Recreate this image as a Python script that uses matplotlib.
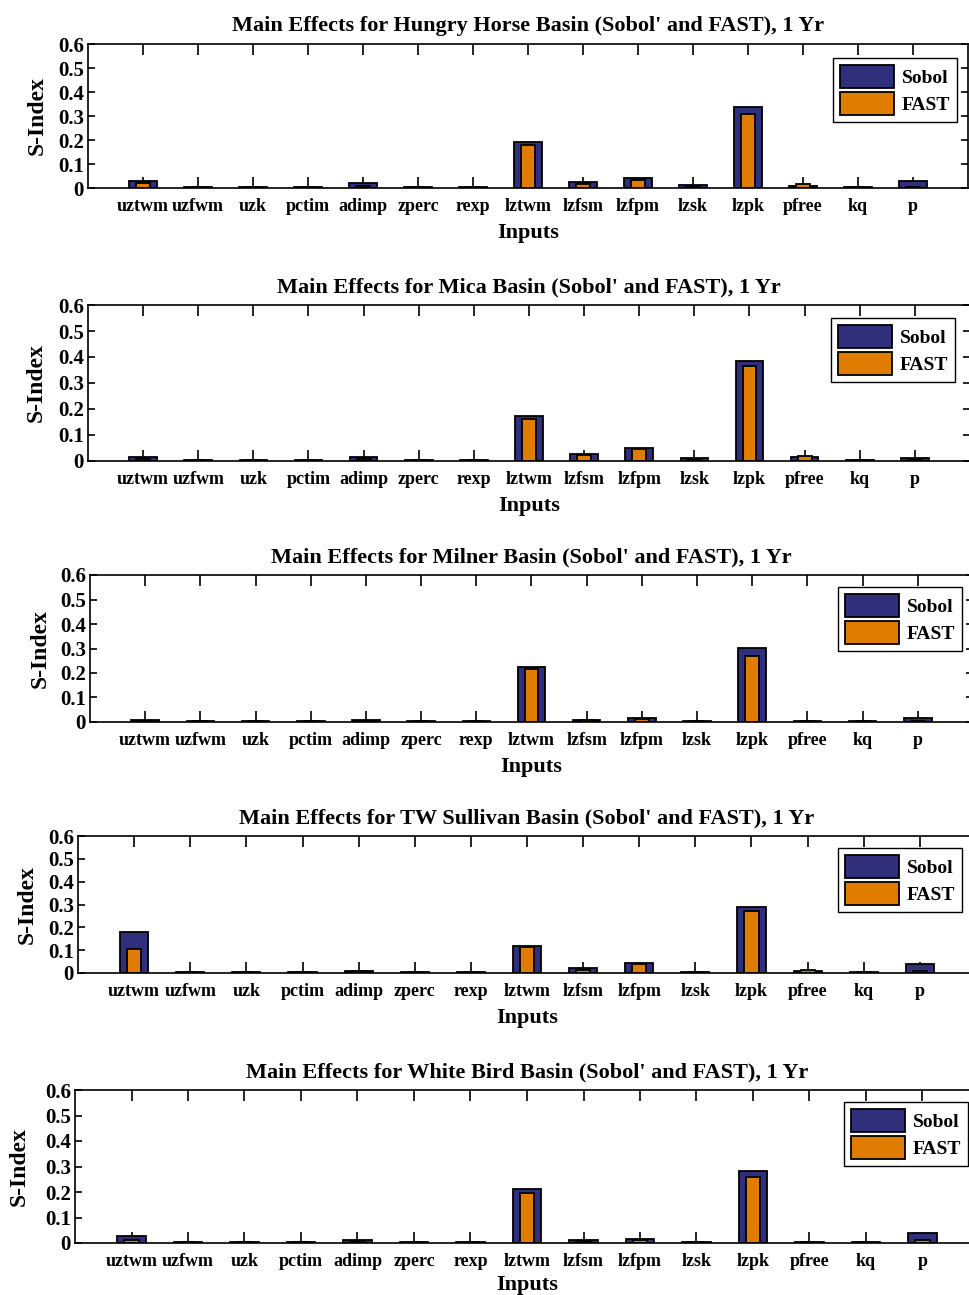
import matplotlib
matplotlib.use('Agg')
import matplotlib.pyplot as plt
import numpy as np

plt.rcParams['font.family'] = ['Liberation Serif', 'DejaVu Serif']
plt.rcParams['font.weight'] = 'bold'

inputs = ['uztwm', 'uzfwm', 'uzk', 'pctim', 'adimp', 'zperc', 'rexp', 'lztwm',
          'lzfsm', 'lzfpm', 'lzsk', 'lzpk', 'pfree', 'kq', 'p']

basins = ['Hungry Horse', 'Mica', 'Milner', 'TW Sullivan', 'White Bird']

sobol_hungry = [0.030, 0.003, 0.003, 0.003, 0.020, 0.003, 0.003, 0.193,
                0.026, 0.043, 0.014, 0.338, 0.010, 0.003, 0.028]
fast_hungry = [0.022, 0.003, 0.003, 0.003, 0.010, 0.003, 0.003, 0.180,
               0.017, 0.033, 0.005, 0.310, 0.017, 0.003, 0.005]

sobol_mica = [0.016, 0.003, 0.003, 0.003, 0.016, 0.003, 0.003, 0.172,
              0.027, 0.051, 0.010, 0.385, 0.014, 0.003, 0.010]
fast_mica = [0.009, 0.003, 0.003, 0.003, 0.009, 0.003, 0.003, 0.163,
             0.023, 0.047, 0.004, 0.365, 0.018, 0.003, 0.004]

sobol_milner = [0.009, 0.003, 0.003, 0.003, 0.009, 0.003, 0.003, 0.224,
                0.009, 0.015, 0.003, 0.302, 0.003, 0.003, 0.016]
fast_milner = [0.004, 0.003, 0.003, 0.003, 0.004, 0.003, 0.003, 0.216,
               0.007, 0.011, 0.003, 0.270, 0.003, 0.003, 0.004]

sobol_sullivan = [0.180, 0.003, 0.003, 0.003, 0.010, 0.003, 0.003, 0.117,
                  0.022, 0.045, 0.003, 0.290, 0.010, 0.003, 0.040]
fast_sullivan = [0.107, 0.003, 0.003, 0.003, 0.007, 0.003, 0.003, 0.112,
                 0.015, 0.041, 0.003, 0.270, 0.015, 0.003, 0.007]

sobol_whitebird = [0.026, 0.003, 0.003, 0.003, 0.011, 0.003, 0.003, 0.210,
                   0.011, 0.017, 0.003, 0.282, 0.003, 0.003, 0.038]
fast_whitebird = [0.013, 0.003, 0.003, 0.003, 0.004, 0.003, 0.003, 0.198,
                  0.008, 0.013, 0.003, 0.259, 0.003, 0.003, 0.011]

sobol_all = [sobol_hungry, sobol_mica, sobol_milner, sobol_sullivan, sobol_whitebird]
fast_all = [fast_hungry, fast_mica, fast_milner, fast_sullivan, fast_whitebird]

NAVY = '#302f7c'
ORANGE = '#e07c00'

W, H = 970, 1295
# pixel boxes: left, top, bottom, right, ylabel centre x, legend right, legend top
boxes = [(88, 44, 188, 968, 38, 957, 58),
         (88, 305, 461, 970, 37, 955, 318),
         (90, 575, 722, 973, 41, 962, 587),
         (78, 836, 973, 976, 28, 962, 848),
         (75, 1090, 1243, 979, 20, 968, 1102)]

fig = plt.figure(figsize=(W / 100, H / 100), dpi=100)

x = np.arange(1, len(inputs) + 1)
for i, (l, t, b, r, ylx, lgr, lgt) in enumerate(boxes):
    ax = fig.add_axes([l / W, 1 - b / H, (r - l) / W, (b - t) / H])
    ax.bar(x, sobol_all[i], width=0.5, color=NAVY, edgecolor='black', linewidth=1.3,
           label='Sobol', zorder=2)
    ax.bar(x, fast_all[i], width=0.25, color=ORANGE, edgecolor='black', linewidth=1.3,
           label='FAST', zorder=2)
    ax.set_xlim(0, 16)
    ax.set_ylim(0, 0.6)
    ax.set_xticks(x)
    ax.set_xticklabels(inputs)
    ax.set_yticks([0, 0.1, 0.2, 0.3, 0.4, 0.5, 0.6])
    ax.set_yticklabels(['0', '0.1', '0.2', '0.3', '0.4', '0.5', '0.6'])
    ax.tick_params(axis='x', direction='in', top=True, length=8, width=1.2,
                   labelsize=13, pad=7)
    ax.tick_params(axis='y', direction='in', right=True, length=5, width=1.2,
                   labelsize=15, pad=3)
    for lab in ax.get_xticklabels() + ax.get_yticklabels():
        lab.set_fontweight('bold')
    for s in ax.spines.values():
        s.set_linewidth(1.2)
    ax.set_title(f"Main Effects for {basins[i]} Basin (Sobol' and FAST), 1 Yr",
                 fontsize=16, fontweight='bold', pad=9)
    ax.set_xlabel('Inputs', fontsize=16, fontweight='bold',
                  labelpad=4 if i == 4 else 6)
    ax.set_ylabel('S-Index', fontsize=17, fontweight='bold')
    ax.yaxis.set_label_coords((ylx + 10) / W, 1 - (t + b) / 2 / H,
                              transform=fig.transFigure)
    leg = ax.legend(loc='upper right',
                    bbox_to_anchor=(lgr / W, 1 - lgt / H),
                    bbox_transform=fig.transFigure,
                    fancybox=False, edgecolor='black', framealpha=1,
                    handlelength=2.8, handleheight=1.45, handletextpad=0.4,
                    borderpad=0.35, labelspacing=0.2, borderaxespad=0,
                    prop={'size': 14, 'weight': 'bold'})
    leg.get_frame().set_linewidth(1.0)

fig.savefig('out.png', dpi=100)
